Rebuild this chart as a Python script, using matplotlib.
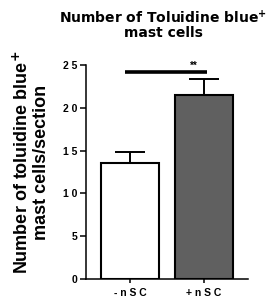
import matplotlib
matplotlib.use('Agg')
import matplotlib.pyplot as plt

plt.rcParams['font.family'] = ['Liberation Sans', 'DejaVu Sans']
plt.rcParams['font.weight'] = 'bold'
plt.rcParams['mathtext.default'] = 'bf'

# data
groups = ['-nSC', '+nSC']
means = [13.6, 21.5]
sems = [1.2, 1.9]
colors = ['white', '#606060']
yticks = [0, 5, 10, 15, 20, 25]
sig_y = 24.2
sig_label = '**'

W, H = 275, 301
fig = plt.figure(figsize=(W / 100, H / 100), dpi=100)
ax = fig.add_axes([86 / W, 22 / H, 162 / W, 214 / H])

x = [0, 1]
ax.bar(x, means, width=0.79, color=colors, edgecolor='black', linewidth=1.5, zorder=2)
for xi, m, s in zip(x, means, sems):
    ax.errorbar(xi, m, yerr=[[0], [s]], fmt='none', ecolor='black',
                elinewidth=1.4, capsize=10.5, capthick=1.4, zorder=1)

# significance bar
ax.plot([-0.07, 1.04], [sig_y, sig_y], color='black', lw=2.6,
        solid_capstyle='butt', clip_on=False)
ax.text(0.86, sig_y + 0.15, sig_label, ha='center', va='bottom',
        fontsize=7, fontweight='bold')

ax.set_xlim(-0.6, 1.6)
ax.set_ylim(0, 25)
ax.set_yticks(yticks)
ax.set_yticklabels([' '.join(str(t)) for t in yticks], fontsize=7.5, fontweight='bold')
ax.set_xticks(x)
ax.set_xticklabels([' '.join(g) for g in groups], fontsize=7.5, fontweight='bold')
ax.tick_params(axis='y', length=4, width=1.1, pad=2)
ax.tick_params(axis='x', length=3, width=1.1, pad=3.5)

for side in ['top', 'right']:
    ax.spines[side].set_visible(False)
for side in ['left', 'bottom']:
    ax.spines[side].set_linewidth(1.1)

fig.text(31.5 / W, 1 - 162 / H, 'Number of toluidine blue$^{+}$\nmast cells/section',
         rotation=90, ha='center', va='center', fontsize=13, fontweight='bold',
         linespacing=1.1, multialignment='center')
fig.text(163 / W, 1 - 9 / H, 'Number of Toluidine blue$^{+}$\nmast cells',
         ha='center', va='top', fontsize=10, fontweight='bold',
         family='DejaVu Sans', linespacing=1.0, multialignment='center')

fig.savefig('out.png', dpi=100)
